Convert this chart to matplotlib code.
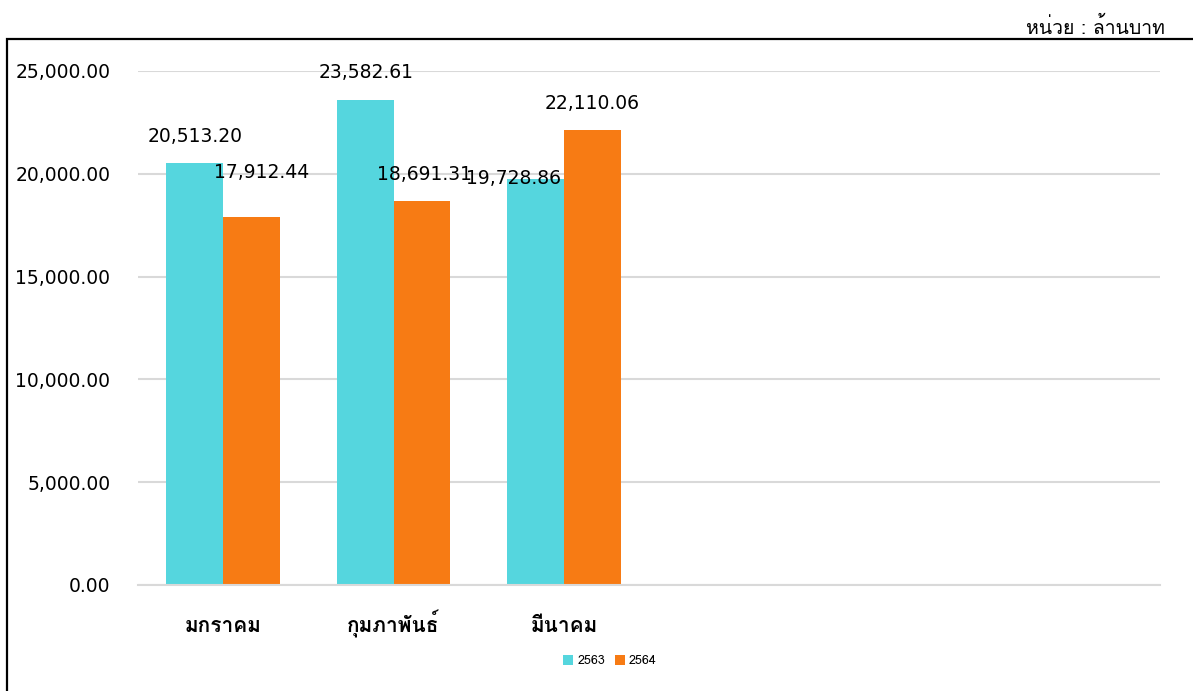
import matplotlib
matplotlib.use("Agg")
import matplotlib.pyplot as plt
from matplotlib.patches import Rectangle
import numpy as np

categories = ["มกราคม", "กุมภาพันธ์", "มีนาคม", "", "", ""]
series_names = ["2563", "2564"]
values_2563 = [20513.20, 23582.61, 19728.86]
values_2564 = [17912.44, 18691.31, 22110.06]
yticks = [0, 5000, 10000, 15000, 20000, 25000]
unit_text = "หน่วย : ล้านบาท"

colors = ["#55D6DE", "#F77B14"]
# label offsets in pixels (dx, dy) of label centre relative to bar top centre
offs_2563 = [(0, 27), (1, 28), (-22, 1)]
offs_2564 = [(10, 44), (3, 26), (0, 27)]

plt.rcParams['font.family'] = ['DejaVu Sans', 'Loma']
fig = plt.figure(figsize=(11.93, 6.91), dpi=100)
W, H = 1193, 691
PX = 72 / 100
ax = fig.add_axes([138 / W, 1 - 585 / H, (1160 - 138) / W, (585 - 71) / H])

x = np.arange(len(categories))
bw = 1 / 3
b1 = ax.bar(x[:len(values_2563)] - bw / 2, values_2563, bw, color=colors[0], label=series_names[0], zorder=3)
b2 = ax.bar(x[:len(values_2564)] + bw / 2, values_2564, bw, color=colors[1], label=series_names[1], zorder=3)

for bars, vals, offs in [(b1, values_2563, offs_2563), (b2, values_2564, offs_2564)]:
    for r, v, (dx, dy) in zip(bars, vals, offs):
        ax.annotate(f"{v:,.2f}", (r.get_x() + r.get_width() / 2, v), xytext=(dx * PX, dy * PX),
                    textcoords="offset points", ha="center", va="center", fontsize=13.5,
                    annotation_clip=False, zorder=5)

ax.set_xlim(-0.5, len(categories) - 0.5)
ax.set_ylim(0, 25000)
ax.set_yticks(yticks)
ax.set_yticklabels([f"{t:,.2f}" for t in yticks], fontsize=13.5)
ax.set_xticks(x)
ax.set_xticklabels(categories, fontsize=15, fontweight="bold", family=["Loma", "DejaVu Sans"])
for lab in ax.get_xticklabels():
    lab.set_verticalalignment("baseline")
ax.tick_params(axis="both", length=0)
ax.tick_params(axis="y", pad=20)
ax.tick_params(axis="x", pad=34)
ax.grid(axis="y", color="#d9d9d9", linewidth=1.5, zorder=0)
ax.set_axisbelow(True)
for s in ["top", "right", "left"]:
    ax.spines[s].set_visible(False)
ax.spines["bottom"].set_color("#d9d9d9")
ax.spines["bottom"].set_linewidth(1.5)
ax.spines["bottom"].set_zorder(4)

leg = fig.legend(handles=[b1, b2], labels=series_names, loc="center", bbox_to_anchor=(610 / W, 1 - 661 / H),
                 ncol=2, frameon=False, handlelength=0.8, handleheight=0.8,
                 handletextpad=0.3, columnspacing=0.8, prop={"family": ["Loma", "DejaVu Sans"], "size": 9})

fig.text(1165 / W, 1 - 27 / H, unit_text, ha="right", va="center", fontsize=14, family=["Loma", "DejaVu Sans"])

fig.patches.append(Rectangle((7 / W, -0.05), 1.1, 1 - 39 / H + 0.05, transform=fig.transFigure,
                             fill=False, edgecolor="black", linewidth=1.6, zorder=10))

fig.savefig("out.png", dpi=100)
